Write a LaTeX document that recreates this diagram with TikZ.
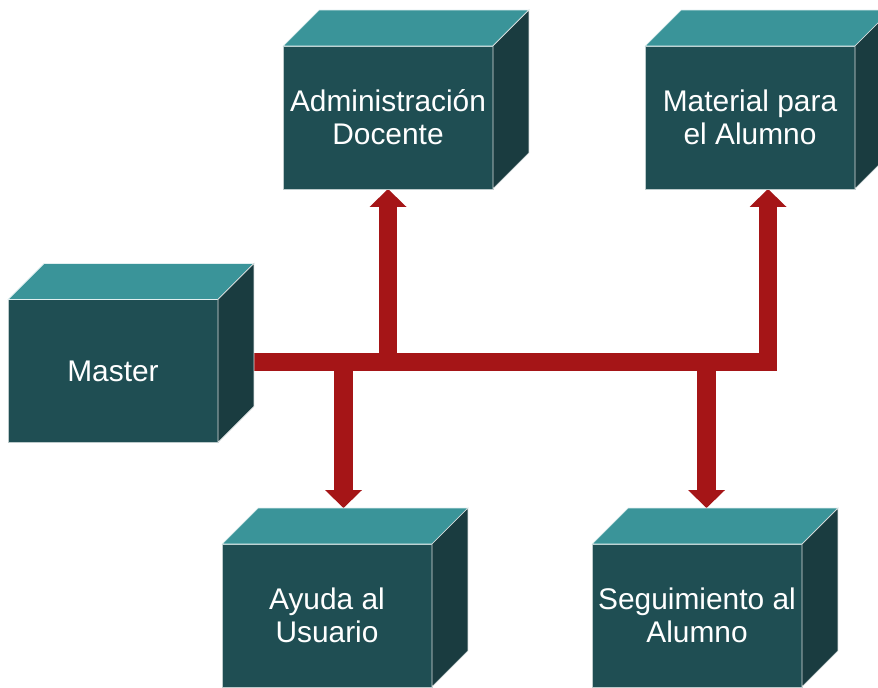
\documentclass[tikz,border=0pt]{standalone}
\usepackage{fontspec}
\setmainfont{Liberation Sans}
\usetikzlibrary{arrows.meta,calc,backgrounds}

\definecolor{frente}{HTML}{1F4E53}
\definecolor{tapacolor}{HTML}{3A9499}
\definecolor{ladocolor}{HTML}{1A3C40}
\definecolor{rojo}{HTML}{A51517}

\tikzset{
  caja/.style={rectangle, fill=frente, draw=white!70!frente, line width=0.4pt,
    text=white, align=center, minimum width=4.2cm, minimum height=2.86cm,
    inner sep=0pt, outer sep=0pt, font=\fontsize{17}{18.8}\selectfont},
  tapa/.style={fill=tapacolor, draw=white!85!tapacolor, line width=0.4pt},
  lado/.style={fill=ladocolor, draw=white!85!ladocolor, line width=0.4pt},
  flecha/.style={draw=rojo, line width=0.37cm, line join=miter,
    -{Triangle[width=0.74cm, length=0.36cm, line width=0pt]}}
}

\begin{document}
\begin{tikzpicture}[x=0.02cm, y=-0.02cm]
    \useasboundingbox (0,0) rectangle (878,688);
    \clip (0,0) rectangle (878,688);

    % Front faces
    \node[caja] (master) at (113,371) {Master};
    \node[caja] (admin) at (388,117.5) {Administración\\Docente};
    \node[caja] (material) at (750,117.5) {Material para\\el Alumno};
    \node[caja] (ayuda) at (327,615.5) {Ayuda al\\Usuario};
    \node[caja] (seguimiento) at (697,615.5) {Seguimiento al\\Alumno};

    % Top and side faces
    \foreach \n in {master,admin,material,ayuda,seguimiento}{
        \draw[tapa] (\n.north west) -- ++(36,-36) -- ($(\n.north east)+(36,-36)$)
            -- (\n.north east) -- cycle;
        \draw[lado] (\n.north east) -- ++(36,-36) -- ($(\n.south east)+(36,-36)$)
            -- (\n.south east) -- cycle;
    }

    % Connectors
    \begin{scope}[on background layer]
        \coordinate (bus) at ($(master.east)+(0,-9)$);
        \coordinate (ayuda-in) at ($(ayuda.north)+(16.5,-36)$);
        \coordinate (seguimiento-in) at ($(seguimiento.north)+(9.5,-36)$);
        \draw[flecha] (bus) -| ($(material.south)+(18,0)$);
        \draw[flecha] (admin.south |- bus) -- (admin.south);
        \draw[flecha] (ayuda-in |- bus) -- (ayuda-in);
        \draw[flecha] (seguimiento-in |- bus) -- (seguimiento-in);
    \end{scope}
\end{tikzpicture}
\end{document}
